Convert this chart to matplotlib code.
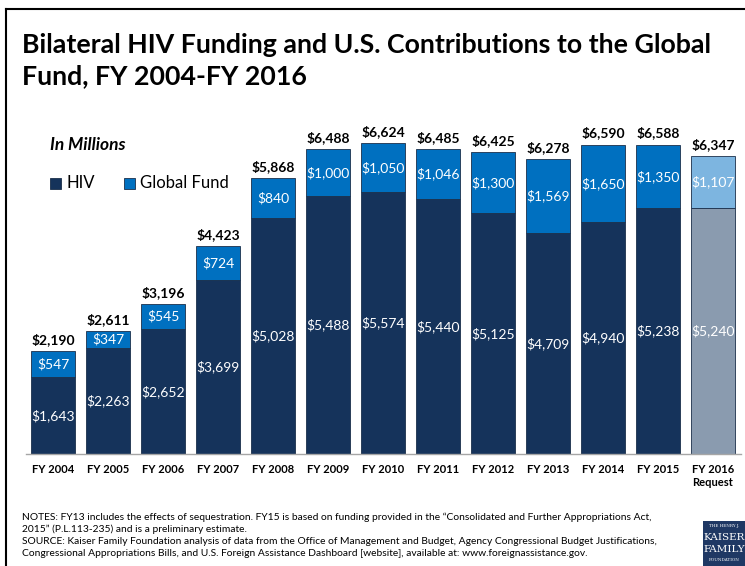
import matplotlib.pyplot as plt
from matplotlib.patches import Rectangle
import numpy as np

# Data (US$ millions)
years = ['FY 2004', 'FY 2005', 'FY 2006', 'FY 2007', 'FY 2008', 'FY 2009', 'FY 2010',
         'FY 2011', 'FY 2012', 'FY 2013', 'FY 2014', 'FY 2015', 'FY 2016\nRequest']
hiv = [1643, 2263, 2652, 3699, 5028, 5488, 5574, 5440, 5125, 4709, 4940, 5238, 5240]
global_fund = [547, 347, 545, 724, 840, 1000, 1050, 1046, 1300, 1569, 1650, 1350, 1107]
totals = [2190, 2611, 3196, 4423, 5868, 6488, 6624, 6485, 6425, 6278, 6590, 6588, 6347]

NAVY = '#15335B'
BLUE = '#0070C0'
GRAY = '#8A9BAF'
LIGHT = '#7DB5E0'
FONT = 'Lato'

W, H = 745, 566
fig = plt.figure(figsize=(W / 100, H / 100), dpi=100)

# slide frame
fig.add_artist(plt.Line2D([6 / W, 6 / W], [0, 1 - 9 / H], color='black', lw=1.5))
fig.add_artist(plt.Line2D([6 / W, 1], [1 - 9 / H, 1 - 9 / H], color='black', lw=1.5))

fig.text(22 / W, 1 - 45 / H, 'Bilateral HIV Funding and U.S. Contributions to the Global',
         fontsize=19.3, fontweight='bold', family=FONT, va='center')
fig.text(22 / W, 1 - 76 / H, 'Fund, FY 2004-FY 2016',
         fontsize=19.3, fontweight='bold', family=FONT, va='center')

# axes placed so that baseline sits at y=454 px
base_px = 454
ymax = 7000
scale = 0.04695  # px per $M
ax = fig.add_axes([25.5 / W, (H - base_px) / H, 715 / W, ymax * scale / H])
x = np.arange(len(years))
hiv_colors = [NAVY] * (len(years) - 1) + [GRAY]
gf_colors = [BLUE] * (len(years) - 1) + [LIGHT]

ax.bar(x, hiv, width=0.8, color=hiv_colors, edgecolor='#1B2F4A', linewidth=0.6)
ax.bar(x, global_fund, bottom=hiv, width=0.8, color=gf_colors, edgecolor='#1B2F4A', linewidth=0.6)

for i in range(len(years)):
    ax.text(x[i], hiv[i] / 2, f'${hiv[i]:,}', ha='center', va='center',
            color='white', fontsize=10, family=FONT)
    ax.text(x[i], hiv[i] + global_fund[i] / 2, f'${global_fund[i]:,}', ha='center', va='center',
            color='white', fontsize=10, family=FONT)
    ax.text(x[i], totals[i] + 110, f'${totals[i]:,}', ha='center', va='bottom',
            color='black', fontsize=10, fontweight='bold', family=FONT)

ax.set_xlim(-0.5, len(years) - 0.5)
ax.set_ylim(0, ymax)
ax.set_xticks(x)
ax.set_xticklabels(years, fontsize=8, fontweight='bold', family=FONT, va='top')
ax.tick_params(axis='x', length=0, pad=7)
ax.set_yticks([])
for s in ['top', 'right', 'left']:
    ax.spines[s].set_visible(False)
ax.spines['bottom'].set_color('#A6A6A6')
ax.spines['bottom'].set_linewidth(1)

# "In Millions" and legend
fig.text(50 / W, 1 - 145 / H, 'In Millions', fontsize=12.5, fontweight='bold',
         style='italic', family=FONT, va='center')
fig.add_artist(Rectangle((50 / W, 1 - 189 / H), 11 / W, 11 / H, transform=fig.transFigure,
                         facecolor=NAVY, edgecolor='#1B2F4A', lw=0.6))
fig.text(66 / W, 1 - 183 / H, 'HIV', fontsize=12, family=FONT, va='center')
fig.add_artist(Rectangle((124 / W, 1 - 189 / H), 11 / W, 11 / H, transform=fig.transFigure,
                         facecolor=BLUE, edgecolor='#1B2F4A', lw=0.6))
fig.text(140 / W, 1 - 183 / H, 'Global Fund', fontsize=12, family=FONT, va='center')

notes = [
    'NOTES: FY13 includes the effects of sequestration. FY15 is based on funding provided in the \u201cConsolidated and Further Appropriations Act,',
    '2015\u201d (P.L.113-235) and is a preliminary estimate.',
    'SOURCE: Kaiser Family Foundation analysis of data from the Office of Management and Budget, Agency Congressional Budget Justifications,',
    'Congressional Appropriations Bills, and U.S. Foreign Assistance Dashboard [website], available at: www.foreignassistance.gov.',
]
for k, line in enumerate(notes):
    fig.text(22 / W, 1 - (517 + 12 * k) / H, line, fontsize=7.4, family=FONT, va='center')

# KFF logo block
fig.add_artist(Rectangle((703 / W, 0), 42 / W, 45 / H, transform=fig.transFigure,
                         facecolor='#1F3864', edgecolor='none'))
fig.text(724 / W, 1 - 526 / H, 'THE HENRY J.', fontsize=3, color='white', ha='center',
         va='center', family='DejaVu Serif')
fig.text(724 / W, 1 - 537 / H, 'KAISER', fontsize=7.5, color='white', ha='center',
         va='center', family='DejaVu Serif')
fig.text(724 / W, 1 - 549 / H, 'FAMILY', fontsize=7.5, color='white', ha='center',
         va='center', family='DejaVu Serif')
fig.text(724 / W, 1 - 560 / H, 'FOUNDATION', fontsize=3, color='white', ha='center',
         va='center', family='DejaVu Serif')

fig.savefig('out.png', dpi=100)
